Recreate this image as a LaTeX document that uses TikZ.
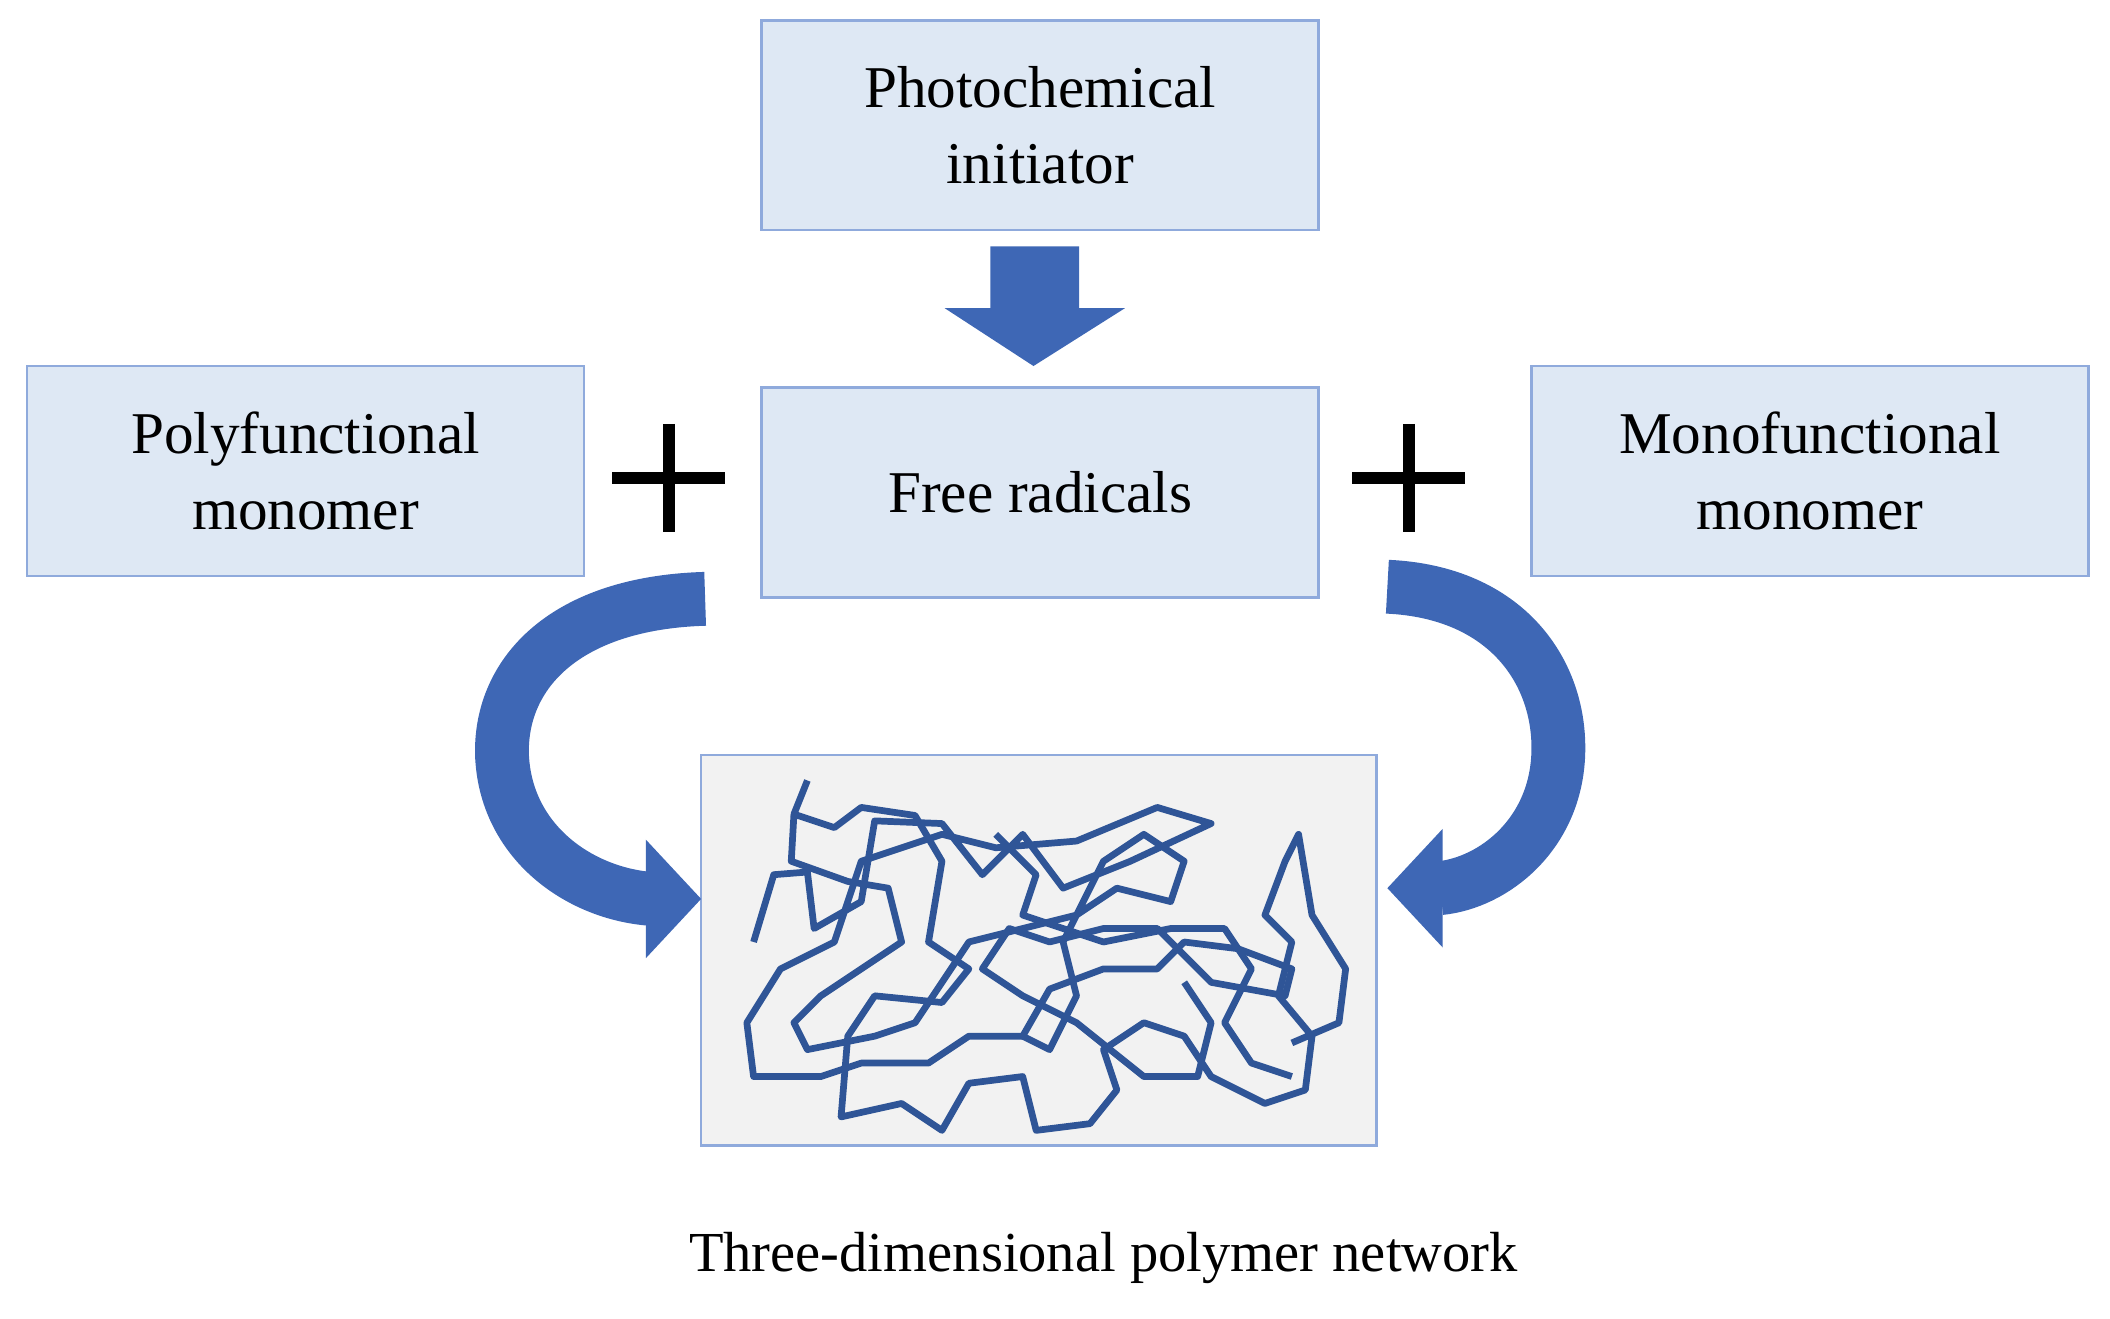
\documentclass[tikz,border=0pt]{standalone}
\usepackage{fontspec}
\setmainfont{Liberation Serif}
\usetikzlibrary{calc}
\begin{document}
\begin{tikzpicture}[x=1pt,y=-1pt,
  box/.style={draw=boxb,fill=boxf,line width=2pt,minimum width=414pt,minimum height=156pt,align=center,font=\fontsize{44}{56}\selectfont,inner sep=0pt},
  band/.style={draw=arr,line width=40pt},
  plus/.style={line width=9pt}]
\definecolor{boxf}{HTML}{DEE8F4}
\definecolor{boxb}{HTML}{8FAADC}
\definecolor{arr}{HTML}{3E67B5}
\definecolor{net}{HTML}{2F5597}
\useasboundingbox (0,0) rectangle (1568,980);
\node[box] (photo) at (773,93) {Photochemical\\initiator};
\node[box] (free) at (773,366) {Free radicals};
\node[box] (poly) at (227,350) {Polyfunctional\\monomer};
\node[box] (mono) at (1345,350) {Monofunctional\\monomer};
\node[draw=boxb,fill=black!5,line width=2pt,minimum width=502pt,minimum height=290pt] (net) at (772,706) {};
\node[font=\fontsize{42}{50}\selectfont] (cap) at (820,935) {Three-dimensional polymer network};
% down arrow
\fill[arr] (736,183) -- (802,183) -- (802,229) -- (836,229) -- (768,272) -- (702,229) -- (736,229) -- cycle;
% plus signs
\coordinate (p1) at (497,355); \coordinate (p2) at (1047,355);
\draw[plus] ($(p1)+(-42,0)$) -- ($(p1)+(42,0)$) ($(p1)+(0,-40)$) -- ($(p1)+(0,40)$);
\draw[plus] ($(p2)+(-42,0)$) -- ($(p2)+(42,0)$) ($(p2)+(0,-40)$) -- ($(p2)+(0,40)$);
% curved arrows
\draw[band] (524,445) .. controls (420,448) and (372,500) .. (373,560) .. controls (375,625) and (430,664) .. (484,668);
\fill[arr] (480,624) -- (521,668) -- (480,712) -- cycle;
\draw[band] (1031,436) .. controls (1120,440) and (1160,500) .. (1158,560) .. controls (1156,620) and (1110,656) .. (1070,660);
\fill[arr] (1072,616) -- (1031,660) -- (1072,704) -- cycle;
% network
\begin{scope}[net,line width=5pt,line join=round]
\draw (600,580) -- (590,605) -- (620,615) -- (640,600) -- (680,606) -- (700,640) -- (690,700) -- (720,720) -- (700,745) -- (650,740) -- (630,770) -- (625,830) -- (670,820) -- (700,840) -- (720,805) -- (760,800) -- (770,840) -- (810,835) -- (830,810) -- (820,780) -- (850,760) -- (880,770) -- (900,800) -- (940,820) -- (970,810) -- (975,770) -- (950,740) -- (960,700) -- (940,680) -- (955,640) -- (965,620) -- (975,680) -- (1000,720) -- (995,760) -- (960,775);
\draw (560,700) -- (575,650) -- (600,648) -- (605,690) -- (640,670) -- (650,610) -- (700,612) -- (730,650) -- (760,620) -- (790,660) -- (840,640) -- (900,612) -- (860,600) -- (800,625) -- (740,630) -- (700,620) -- (640,640) -- (620,700) -- (580,720) -- (555,760) -- (560,800) -- (610,800) -- (640,790) -- (690,790) -- (720,770) -- (760,770) -- (780,735) -- (820,720) -- (860,720) -- (880,700) -- (920,705) -- (960,720) -- (955,740) -- (900,730) -- (860,690) -- (820,690) -- (780,700) -- (750,690) -- (730,720) -- (760,740) -- (800,760) -- (850,800) -- (890,800) -- (900,760) -- (880,730);
\draw (590,605) -- (588,640) -- (630,655) -- (660,660) -- (670,700) -- (640,720) -- (610,740) -- (590,760) -- (600,780) -- (650,770) -- (680,760) -- (700,730) -- (720,700) -- (760,690) -- (800,680) -- (830,660) -- (870,670) -- (880,640) -- (850,620) -- (820,640) -- (790,700) -- (800,740) -- (780,780) -- (760,770);
\draw (740,620) -- (770,650) -- (760,680) -- (820,700) -- (870,690) -- (910,690) -- (930,720) -- (910,760) -- (930,790) -- (960,800);
\end{scope}
\end{tikzpicture}
\end{document}
